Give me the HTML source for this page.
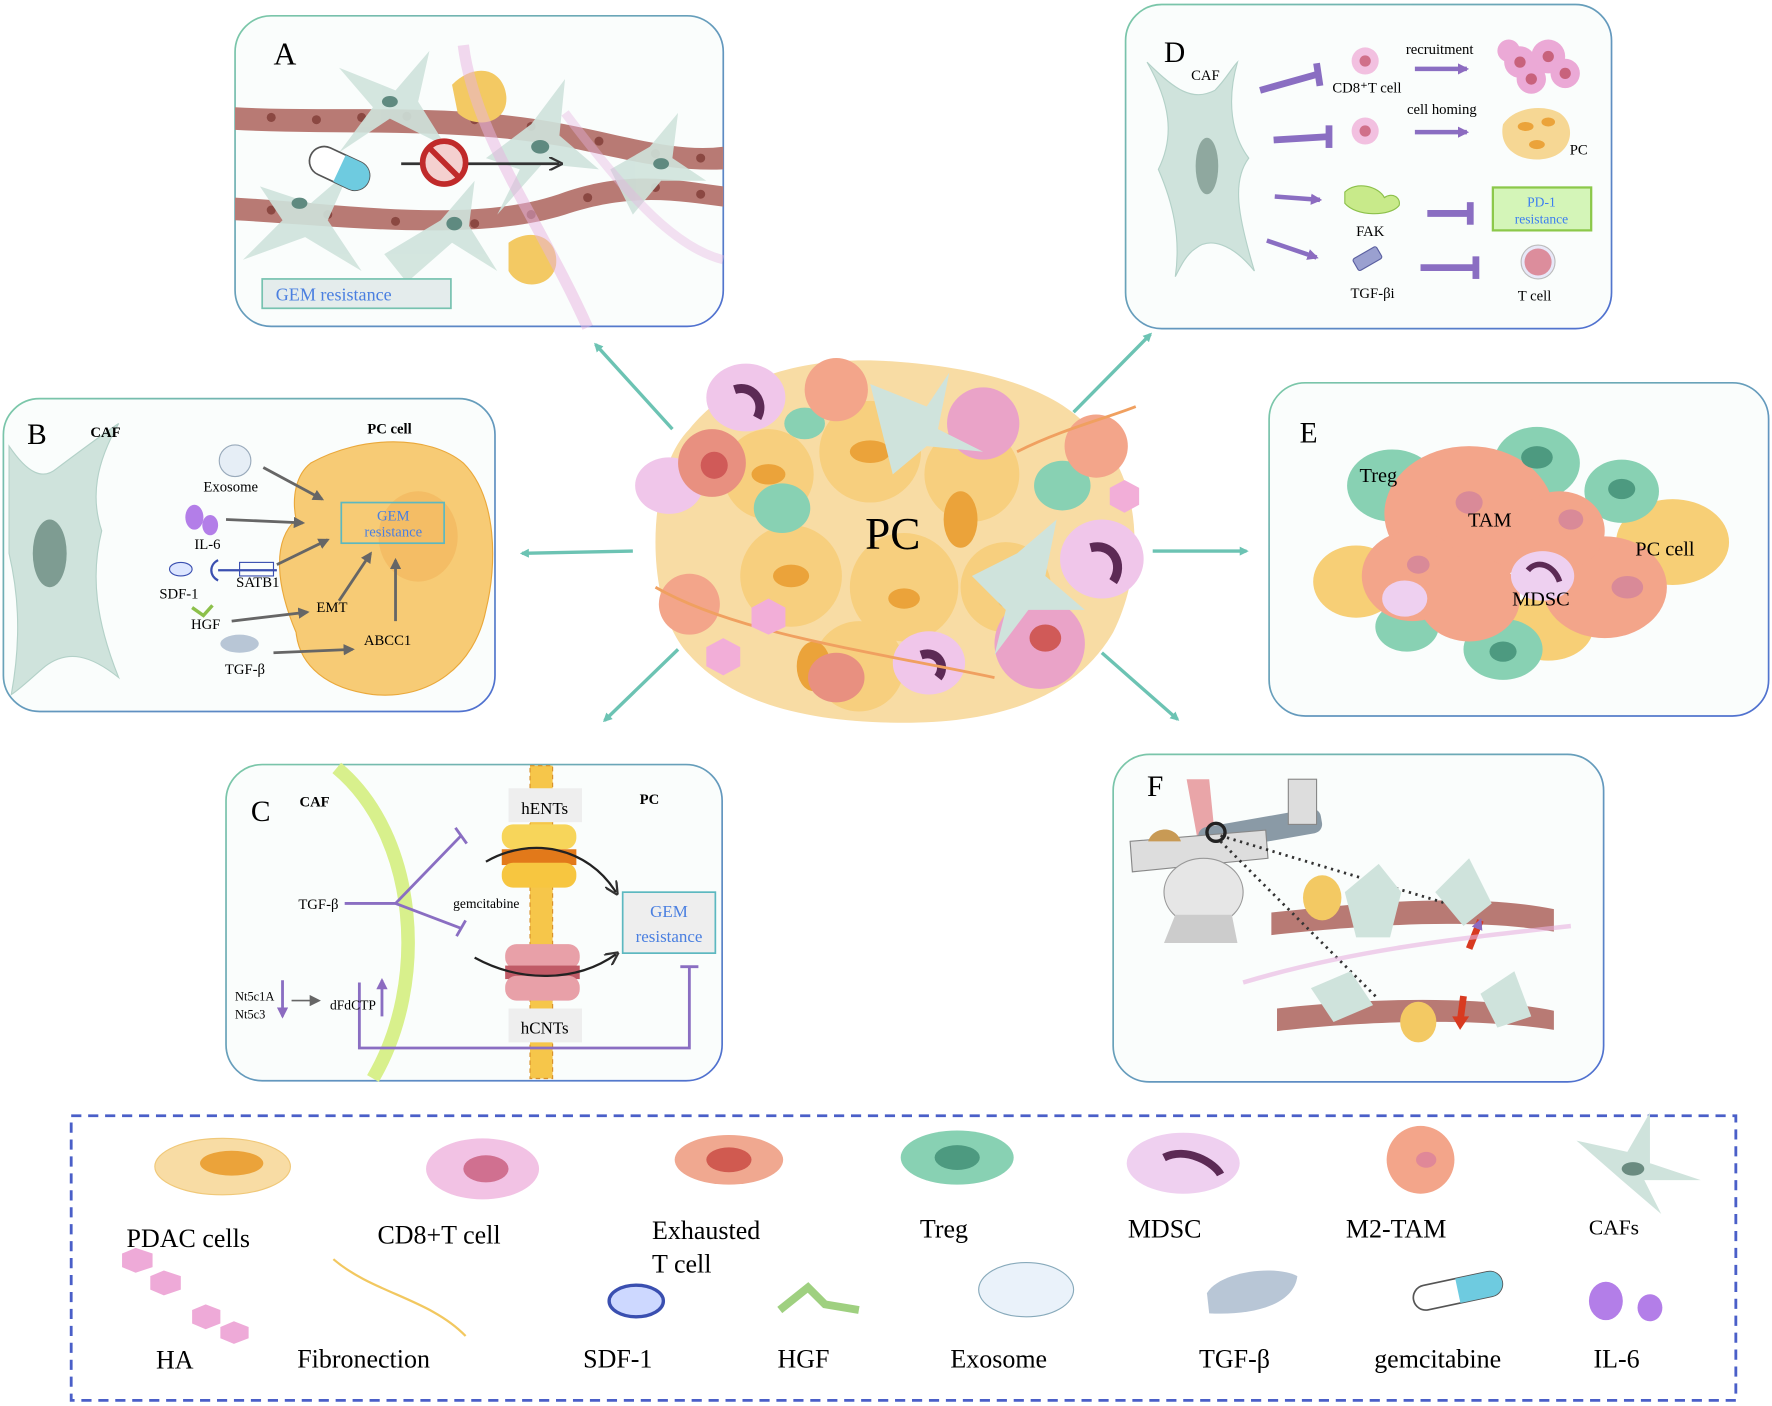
<!DOCTYPE html>
<html><head><meta charset="utf-8"><style>
html,body{margin:0;padding:0;background:#fff}
svg{display:block}
text{font-family:"Liberation Serif",serif}
</style></head><body>
<svg width="1772" height="1406" viewBox="0 0 1568 1245" preserveAspectRatio="none" xmlns="http://www.w3.org/2000/svg">
<defs>
<marker id="ta" markerWidth="8" markerHeight="8" refX="6" refY="4" orient="auto" markerUnits="userSpaceOnUse"><path d="M0,0 L8,4 L0,8 Z" fill="#6cc3b3"/></marker>
<marker id="pa" markerWidth="10" markerHeight="10" refX="8" refY="5" orient="auto" markerUnits="userSpaceOnUse"><path d="M0,0 L10,5 L0,10 Z" fill="#8c6bc0"/></marker>
<marker id="ga" markerWidth="10" markerHeight="10" refX="8" refY="5" orient="auto" markerUnits="userSpaceOnUse"><path d="M0,0 L10,5 L0,10 Z" fill="#666"/></marker>
<marker id="ka" markerWidth="12" markerHeight="12" refX="9" refY="6" orient="auto" markerUnits="userSpaceOnUse"><path d="M0,0 L12,6 L0,12" fill="none" stroke="#333" stroke-width="2"/></marker>
<linearGradient id="pg" x1="0" y1="0" x2="1" y2="1"><stop offset="0" stop-color="#7cc9a8"/><stop offset="1" stop-color="#4f6fd0"/></linearGradient>
</defs>

<!-- Panels -->
<rect x="208" y="14" width="432" height="275" rx="32" fill="#fafdfc" stroke="url(#pg)" stroke-width="1.5"/>
<rect x="996" y="4" width="430" height="287" rx="32" fill="#fafdfc" stroke="url(#pg)" stroke-width="1.5"/>
<rect x="3" y="353" width="435" height="277" rx="32" fill="#fafdfc" stroke="url(#pg)" stroke-width="1.5"/>
<rect x="1123" y="339" width="442" height="295" rx="32" fill="#fafdfc" stroke="url(#pg)" stroke-width="1.5"/>
<rect x="200" y="677" width="439" height="280" rx="32" fill="#fafdfc" stroke="url(#pg)" stroke-width="1.5"/>
<rect x="985" y="668" width="434" height="290" rx="32" fill="#fafdfc" stroke="url(#pg)" stroke-width="1.5"/>

<!-- Panel A -->
<g>
<path d="M208,95 C300,100 400,90 500,110 C560,122 600,135 640,130 L640,150 C590,152 550,140 500,130 C400,112 300,120 208,115 Z" fill="#b87a74"/>
<path d="M208,175 C300,180 420,200 500,170 C560,150 600,160 640,165 L640,183 C600,178 560,170 500,190 C420,215 300,200 208,195 Z" fill="#b87a74"/>
<g fill="#8b4842">
<circle cx="240" cy="104" r="4"/><circle cx="280" cy="106" r="4"/><circle cx="320" cy="104" r="4"/><circle cx="360" cy="103" r="4"/><circle cx="420" cy="106" r="4"/><circle cx="470" cy="112" r="4"/><circle cx="530" cy="125" r="4"/><circle cx="580" cy="136" r="4"/><circle cx="620" cy="140" r="4"/>
<circle cx="240" cy="186" r="4"/><circle cx="290" cy="190" r="4"/><circle cx="350" cy="196" r="4"/><circle cx="420" cy="198" r="4"/><circle cx="470" cy="190" r="4"/><circle cx="520" cy="175" r="4"/><circle cx="580" cy="166" r="4"/><circle cx="620" cy="172" r="4"/>
</g>
<g fill="#cfe3dc" opacity="0.9">
<path d="M300,60 L350,80 L380,45 L370,90 L395,130 L345,105 L300,135 L330,95 Z"/>
<path d="M430,140 L470,110 L500,70 L495,120 L530,150 L480,145 L440,190 L460,150 Z"/>
<path d="M215,230 L250,195 L230,165 L275,180 L310,150 L290,195 L320,240 L270,210 Z"/>
<path d="M340,225 L390,195 L420,160 L415,200 L440,240 L400,215 L360,250 Z"/>
<path d="M540,150 L575,130 L600,100 L595,140 L625,160 L585,160 L560,190 Z"/>
</g>
<g fill="#5f8a80"><ellipse cx="345" cy="90" rx="7" ry="5"/><ellipse cx="478" cy="130" rx="8" ry="6"/><ellipse cx="265" cy="180" rx="7" ry="5"/><ellipse cx="402" cy="198" rx="7" ry="6"/><ellipse cx="585" cy="145" rx="7" ry="5"/></g>
<path d="M400,75 C420,55 445,60 448,85 C450,110 420,115 405,100 Z" fill="#f3c963"/>
<path d="M450,215 C470,200 495,210 492,235 C488,255 460,258 450,240 Z" fill="#f3c963"/>
<path d="M410,40 C420,120 480,200 520,290" stroke="#e7b3e0" stroke-width="10" fill="none" opacity="0.5"/>
<path d="M500,100 C560,180 600,220 640,230" stroke="#e7b3e0" stroke-width="8" fill="none" opacity="0.4"/>
<g transform="rotate(25 300 150)"><rect x="272" y="136" width="56" height="26" rx="13" fill="#fff" stroke="#555" stroke-width="1.5"/><path d="M300,136 L315,136 A13,13 0 0 1 315,162 L300,162 Z" fill="#6ecbe0"/></g>
<line x1="355" y1="145" x2="495" y2="145" stroke="#333" stroke-width="2.5" marker-end="url(#ka)"/>
<circle cx="393" cy="144" r="19" fill="#f4d0cf" stroke="#c02a2a" stroke-width="5"/>
<line x1="380" y1="131" x2="406" y2="157" stroke="#c02a2a" stroke-width="5"/>
<rect x="232" y="247" width="167" height="26" fill="#e4ecec" stroke="#77c2b0" stroke-width="1.5"/>
<text x="244" y="266" font-size="16" fill="#4a7fe0">GEM resistance</text>
<text x="242" y="57" font-size="28">A</text>
</g>

<!-- Panel D -->
<g>
<path d="M1015,55 C1040,80 1055,90 1075,80 C1085,70 1090,60 1095,55 C1085,90 1090,120 1105,140 C1090,160 1095,190 1110,240 C1090,215 1070,210 1058,220 C1050,225 1045,235 1040,245 C1045,210 1038,180 1025,150 C1040,120 1035,90 1015,55 Z" fill="#cfe3dc" stroke="#b3d1c8"/>
<ellipse cx="1068" cy="147" rx="10" ry="25" fill="#8fa89f"/>
<text x="1030" y="55" font-size="26">D</text>
<text x="1054" y="71" font-size="13">CAF</text>
<g stroke="#8a6ec2" stroke-width="6" fill="none">
<line x1="1115" y1="80" x2="1165" y2="66"/><line x1="1165" y1="56" x2="1168" y2="76"/>
<line x1="1127" y1="124" x2="1176" y2="121"/><line x1="1176" y1="111" x2="1176" y2="131"/>
<line x1="1263" y1="189" x2="1300" y2="189"/><line x1="1301" y1="179" x2="1301" y2="199"/>
<line x1="1257" y1="237" x2="1305" y2="237"/><line x1="1306" y1="227" x2="1306" y2="247"/>
</g>
<g stroke="#8a6ec2" stroke-width="4">
<line x1="1252" y1="61" x2="1298" y2="61" marker-end="url(#pa)"/>
<line x1="1252" y1="117" x2="1298" y2="117" marker-end="url(#pa)"/>
<line x1="1128" y1="174" x2="1168" y2="177" marker-end="url(#pa)"/>
<line x1="1121" y1="213" x2="1165" y2="228" marker-end="url(#pa)"/>
</g>
<circle cx="1208" cy="54" r="12" fill="#f2c0e0"/><circle cx="1208" cy="54" r="5" fill="#d0708a"/>
<circle cx="1208" cy="116" r="12" fill="#f2c0e0"/><circle cx="1208" cy="116" r="5" fill="#d0708a"/>
<g fill="#eba9d6"><circle cx="1345" cy="55" r="14"/><circle cx="1370" cy="50" r="15"/><circle cx="1385" cy="65" r="13"/><circle cx="1355" cy="70" r="13"/><circle cx="1335" cy="45" r="10"/></g>
<g fill="#c8627c"><circle cx="1345" cy="55" r="5"/><circle cx="1370" cy="50" r="5"/><circle cx="1385" cy="65" r="5"/><circle cx="1355" cy="70" r="5"/></g>
<path d="M1330,110 C1340,95 1365,92 1380,100 C1395,110 1392,135 1370,140 C1350,145 1325,135 1330,110 Z" fill="#f6d794"/>
<g fill="#eba33a"><ellipse cx="1350" cy="112" rx="7" ry="4"/><ellipse cx="1370" cy="108" rx="6" ry="4"/><ellipse cx="1360" cy="128" rx="7" ry="4"/></g>
<path d="M1190,170 C1200,160 1220,165 1225,175 C1232,170 1240,175 1238,182 C1230,192 1200,192 1190,180 Z" fill="#c8ea8a" stroke="#8cc04a"/>
<rect x="1198" y="223" width="24" height="12" rx="2" transform="rotate(-30 1210 229)" fill="#9aa0d0" stroke="#5a5fa0"/>
<rect x="1321" y="166" width="87" height="38" fill="#d4f5b8" stroke="#8cc84a" stroke-width="2"/>
<text x="1364" y="183" font-size="12" fill="#3c7ef0" text-anchor="middle">PD-1</text>
<text x="1364" y="198" font-size="12" fill="#3c7ef0" text-anchor="middle">resistance</text>
<circle cx="1361" cy="232" r="15" fill="#e8e8f8" stroke="#bbb"/><circle cx="1361" cy="232" r="12" fill="#dc8d9c"/>
<g font-size="13"><text x="1179" y="82">CD8⁺T cell</text><text x="1244" y="48">recruitment</text><text x="1245" y="101">cell homing</text><text x="1389" y="137">PC</text><text x="1200" y="209">FAK</text><text x="1195" y="264">TGF-βi</text><text x="1343" y="266">T cell</text></g>
</g>

<!-- Panel B -->
<g>
<path d="M8,395 C25,420 38,425 50,415 C70,400 90,385 105,375 C85,410 80,440 90,470 C80,510 85,550 105,600 C80,580 60,575 40,590 C28,600 18,610 10,615 C20,560 15,520 8,490 Z" fill="#cfe3dc" stroke="#b3d1c8"/>
<ellipse cx="44" cy="490" rx="15" ry="30" fill="#7e9c92"/>
<path d="M275,410 C320,385 380,385 410,410 C440,440 440,500 430,540 C420,590 380,620 330,615 C290,610 265,590 262,560 C245,520 240,480 262,460 C258,440 262,420 275,410 Z" fill="#f7cb75" stroke="#eaa83a"/>
<ellipse cx="370" cy="475" rx="35" ry="40" fill="#f1b45a" opacity="0.6"/>
<rect x="302" y="445" width="91" height="36" fill="none" stroke="#5cb8c0" stroke-width="1.5"/>
<text x="348" y="461" font-size="13" fill="#4a7fe0" text-anchor="middle">GEM</text>
<text x="348" y="475" font-size="13" fill="#4a7fe0" text-anchor="middle">resistance</text>
<g stroke="#666" stroke-width="2.5">
<line x1="233" y1="414" x2="285" y2="442" marker-end="url(#ga)"/>
<line x1="200" y1="460" x2="268" y2="463" marker-end="url(#ga)"/>
<line x1="245" y1="500" x2="290" y2="478" marker-end="url(#ga)"/>
<line x1="300" y1="532" x2="328" y2="490" marker-end="url(#ga)"/>
<line x1="350" y1="550" x2="350" y2="496" marker-end="url(#ga)"/>
<line x1="205" y1="550" x2="272" y2="542" marker-end="url(#ga)"/>
<line x1="242" y1="578" x2="312" y2="575" marker-end="url(#ga)"/>
</g>
<circle cx="208" cy="408" r="14" fill="#e6eef6" stroke="#9ab"/>
<ellipse cx="172" cy="458" rx="8" ry="11" fill="#b37ee8"/><ellipse cx="186" cy="465" rx="7" ry="9" fill="#b37ee8"/>
<ellipse cx="160" cy="504" rx="10" ry="6" fill="#dde6ff" stroke="#3a4fb0"/>
<path d="M193,496 C185,500 185,510 193,514 M193,505 L245,505" stroke="#3a4fb0" stroke-width="2" fill="none"/>
<rect x="212" y="498" width="30" height="12" fill="none" stroke="#3a4fb0"/>
<path d="M170,538 L180,545 L188,536" stroke="#8cc04a" stroke-width="3" fill="none"/>
<ellipse cx="212" cy="570" rx="17" ry="8" fill="#b8c6d6"/>
<g font-size="13"><text x="80" y="387" font-weight="bold">CAF</text><text x="325" y="384" font-weight="bold">PC cell</text><text x="180" y="435">Exosome</text><text x="172" y="486">IL-6</text><text x="141" y="530">SDF-1</text><text x="209" y="520">SATB1</text><text x="169" y="557">HGF</text><text x="280" y="542">EMT</text><text x="322" y="571">ABCC1</text><text x="199" y="597">TGF-β</text></g>
<text x="24" y="393" font-size="26">B</text>
</g>

<!-- Panel E -->
<g>
<g fill="#f7cf76"><ellipse cx="1200" cy="515" rx="38" ry="32"/><ellipse cx="1480" cy="480" rx="50" ry="38"/><ellipse cx="1370" cy="555" rx="40" ry="30"/></g>
<g fill="#88d1b3"><ellipse cx="1232" cy="430" rx="40" ry="32"/><ellipse cx="1360" cy="410" rx="38" ry="32"/><ellipse cx="1435" cy="435" rx="33" ry="28"/><ellipse cx="1330" cy="575" rx="35" ry="27"/><ellipse cx="1245" cy="555" rx="28" ry="22"/></g>
<g fill="#f3a58a"><ellipse cx="1300" cy="455" rx="75" ry="60"/><ellipse cx="1250" cy="510" rx="45" ry="40"/><ellipse cx="1420" cy="520" rx="55" ry="45"/><ellipse cx="1300" cy="530" rx="45" ry="38"/><ellipse cx="1380" cy="470" rx="40" ry="35"/></g>
<g fill="#d98a98"><ellipse cx="1300" cy="445" rx="12" ry="10"/><ellipse cx="1255" cy="500" rx="10" ry="8"/><ellipse cx="1440" cy="520" rx="14" ry="10"/><ellipse cx="1390" cy="460" rx="11" ry="9"/></g>
<g fill="#4d9a80"><ellipse cx="1360" cy="405" rx="14" ry="10"/><ellipse cx="1435" cy="433" rx="12" ry="9"/><ellipse cx="1330" cy="577" rx="12" ry="9"/></g>
<ellipse cx="1365" cy="510" rx="28" ry="22" fill="#eed0f0"/><path d="M1352,505 C1360,495 1375,500 1380,515" stroke="#5c2a55" stroke-width="5" fill="none"/>
<ellipse cx="1243" cy="530" rx="20" ry="16" fill="#eed0f0"/>
<g font-size="18"><text x="1203" y="427">Treg</text><text x="1299" y="466">TAM</text><text x="1447" y="492">PC cell</text><text x="1338" y="536">MDSC</text></g>
<text x="1150" y="392" font-size="26">E</text>
</g>

<!-- Panel C -->
<g>
<path d="M298,680 C370,740 380,870 330,955" stroke="#d8f08c" stroke-width="12" fill="none"/>
<rect x="469" y="678" width="20" height="277" fill="#f6c64a" stroke="#d8902a" stroke-dasharray="4,3"/>
<rect x="450" y="698" width="65" height="30" fill="#eee"/><text x="482" y="721" font-size="15" text-anchor="middle">hENTs</text>
<rect x="450" y="893" width="65" height="30" fill="#eee"/><text x="482" y="915" font-size="15" text-anchor="middle">hCNTs</text>
<rect x="444" y="730" width="66" height="22" rx="10" fill="#f7d55a"/><rect x="444" y="752" width="66" height="14" fill="#e2791a"/><rect x="444" y="764" width="66" height="22" rx="10" fill="#f7c640"/>
<rect x="447" y="836" width="66" height="22" rx="10" fill="#e8a0a8"/><rect x="447" y="855" width="66" height="12" fill="#c05a66"/><rect x="447" y="864" width="66" height="22" rx="10" fill="#e8a0a8"/>
<path d="M430,763 C470,740 520,750 545,790" stroke="#222" stroke-width="2" fill="none" marker-end="url(#ka)"/>
<path d="M420,848 C460,870 510,870 545,845" stroke="#222" stroke-width="2" fill="none" marker-end="url(#ka)"/>
<rect x="551" y="790" width="82" height="54" fill="#eeeeee" stroke="#5cb8c0" stroke-width="1.5"/>
<text x="592" y="812" font-size="15" fill="#4a7fe0" text-anchor="middle">GEM</text>
<text x="592" y="834" font-size="15" fill="#4a7fe0" text-anchor="middle">resistance</text>
<g stroke="#8a6ec2" stroke-width="2.5" fill="none">
<line x1="305" y1="800" x2="350" y2="800"/>
<line x1="350" y1="800" x2="408" y2="740"/><line x1="350" y1="800" x2="408" y2="822"/>
<line x1="403" y1="733" x2="413" y2="747"/><line x1="404" y1="829" x2="412" y2="815"/>
<path d="M318,870 L318,928 L610,928 L610,856"/><line x1="602" y1="856" x2="618" y2="856"/>
<line x1="250" y1="868" x2="250" y2="900" marker-end="url(#pa)"/>
<line x1="338" y1="900" x2="338" y2="868" marker-end="url(#pa)"/>
</g>
<line x1="258" y1="886" x2="282" y2="886" stroke="#666" stroke-width="1.5" marker-end="url(#ga)"/>
<g font-size="13"><text x="265" y="714" font-weight="bold">CAF</text><text x="566" y="712" font-weight="bold">PC</text><text x="264" y="805">TGF-β</text><text x="401" y="804" font-size="12">gemcitabine</text><text x="208" y="886" font-size="11">Nt5c1A</text><text x="208" y="902" font-size="11">Nt5c3</text><text x="292" y="894" font-size="12">dFdCTP</text></g>
<text x="222" y="727" font-size="26">C</text>
</g>

<!-- Panel F -->
<g>
<path d="M1125,808 C1200,800 1300,790 1375,805 L1375,825 C1300,812 1200,820 1125,828 Z" fill="#b87a74"/>
<path d="M1130,893 C1200,885 1300,880 1375,895 L1375,912 C1300,900 1200,905 1130,913 Z" fill="#b87a74"/>
<path d="M1050,690 L1070,690 L1075,740 L1060,745 Z" fill="#e9a5a8"/>
<rect x="1060" y="725" width="110" height="22" rx="8" fill="#8a9aa6" transform="rotate(-10 1110 735)"/>
<rect x="1140" y="690" width="25" height="40" fill="#ddd" stroke="#888"/>
<path d="M1000,745 L1120,735 L1122,760 L1002,772 Z" fill="#ddd" stroke="#888"/>
<ellipse cx="1065" cy="790" rx="35" ry="30" fill="#e6e6e6" stroke="#999"/>
<path d="M1040,810 L1090,810 L1095,835 L1030,835 Z" fill="#ccc"/>
<circle cx="1076" cy="737" r="8" fill="none" stroke="#222" stroke-width="3"/>
<path d="M1016,745 C1020,732 1040,730 1045,745 Z" fill="#c89a55"/>
<g stroke="#333" stroke-width="2.5" stroke-dasharray="2,4"><line x1="1080" y1="740" x2="1280" y2="800"/><line x1="1080" y1="745" x2="1220" y2="885"/></g>
<g fill="#cfe3dc"><path d="M1190,790 L1220,765 L1240,790 L1230,830 L1200,830 Z"/><path d="M1270,790 L1300,760 L1320,800 L1295,820 Z"/><path d="M1160,875 L1195,860 L1215,890 L1180,905 Z"/><path d="M1310,880 L1340,860 L1355,900 L1325,910 Z"/></g>
<ellipse cx="1170" cy="795" rx="17" ry="20" fill="#f3c963"/><ellipse cx="1255" cy="905" rx="16" ry="18" fill="#f3c963"/>
<path d="M1300,840 L1310,815" stroke="#d83a20" stroke-width="6" marker-end="url(#pa)"/>
<path d="M1295,882 L1292,905" stroke="#d83a20" stroke-width="6"/>
<path d="M1285,900 L1292,912 L1300,900 Z" fill="#d83a20"/>
<path d="M1100,870 C1200,840 1300,830 1390,820" stroke="#e7b3e0" stroke-width="4" fill="none" opacity="0.6"/>
<text x="1015" y="705" font-size="26">F</text>
</g>

<!-- Center cluster -->
<g>
<path d="M610,380 C650,330 720,315 790,320 C860,325 930,340 965,380 C1010,420 1015,500 985,560 C950,620 880,640 800,640 C720,640 650,625 610,580 C570,540 570,420 610,380 Z" fill="#f8dca4"/>
<g fill="#f7cf7e"><circle cx="680" cy="420" r="40"/><circle cx="770" cy="400" r="45"/><circle cx="860" cy="420" r="42"/><circle cx="700" cy="510" r="45"/><circle cx="800" cy="520" r="48"/><circle cx="890" cy="520" r="40"/><circle cx="760" cy="590" r="40"/></g>
<g fill="#eba33a"><ellipse cx="680" cy="420" rx="15" ry="9"/><ellipse cx="770" cy="400" rx="18" ry="10"/><ellipse cx="850" cy="460" rx="15" ry="25"/><ellipse cx="700" cy="510" rx="16" ry="10"/><ellipse cx="800" cy="530" rx="14" ry="9"/><ellipse cx="890" cy="520" rx="10" ry="18"/><ellipse cx="720" cy="590" rx="15" ry="22"/></g>
<g fill="#f0c6ea"><ellipse cx="660" cy="352" rx="35" ry="30"/><ellipse cx="975" cy="495" rx="37" ry="35"/><ellipse cx="822" cy="587" rx="32" ry="28"/><ellipse cx="592" cy="430" rx="30" ry="25"/></g>
<g stroke="#5c2a55" stroke-width="8" fill="none"><path d="M650,345 C665,340 678,355 670,370"/><path d="M965,485 C985,480 995,500 985,515"/><path d="M815,580 C830,575 838,590 830,600"/></g>
<g fill="#88d1b3"><ellipse cx="692" cy="450" rx="25" ry="22"/><ellipse cx="940" cy="430" rx="25" ry="22"/><ellipse cx="712" cy="375" rx="18" ry="14"/></g>
<g fill="#f3a58a"><circle cx="740" cy="345" r="28"/><circle cx="970" cy="395" r="28"/><circle cx="610" cy="535" r="27"/></g>
<g fill="#eaa3c8"><circle cx="870" cy="375" r="32"/><circle cx="920" cy="570" r="40"/></g>
<g fill="#e89080"><ellipse cx="630" cy="410" rx="30" ry="30"/><ellipse cx="740" cy="600" rx="25" ry="22"/></g>
<g fill="#d05a58"><ellipse cx="632" cy="412" rx="12" ry="12"/><ellipse cx="925" cy="565" rx="14" ry="12"/></g>
<path d="M860,510 L900,490 L935,460 L925,510 L960,540 L910,540 L880,580 L890,540 Z" fill="#cfe3dc"/>
<path d="M770,340 L820,360 L840,330 L830,380 L870,400 L820,395 L790,420 Z" fill="#cfe3dc"/>
<path d="M580,520 C650,560 760,575 880,600" stroke="#f0a060" stroke-width="2.5" fill="none"/>
<path d="M900,400 C940,380 980,370 1005,360" stroke="#f0a060" stroke-width="2.5" fill="none"/>
<g fill="#f2aed8"><polygon points="680,530 695,538 695,555 680,562 665,555 665,538"/><polygon points="640,565 655,573 655,590 640,598 625,590 625,573"/><polygon points="995,425 1008,432 1008,447 995,454 982,447 982,432"/></g>
<text x="790" y="486" font-size="40" text-anchor="middle">PC</text>
</g>

<!-- teal arrows -->
<g stroke="#6cc3b3" stroke-width="3">
<line x1="595" y1="380" x2="527" y2="305" marker-end="url(#ta)"/>
<line x1="950" y1="365" x2="1018" y2="296" marker-end="url(#ta)"/>
<line x1="560" y1="488" x2="462" y2="490" marker-end="url(#ta)"/>
<line x1="1020" y1="488" x2="1103" y2="488" marker-end="url(#ta)"/>
<line x1="600" y1="575" x2="535" y2="638" marker-end="url(#ta)"/>
<line x1="975" y1="578" x2="1042" y2="637" marker-end="url(#ta)"/>
</g>

<!-- Legend -->
<rect x="63" y="988" width="1473" height="252" fill="none" stroke="#4a5fc8" stroke-width="2.5" stroke-dasharray="9,6"/>
<g>
<ellipse cx="197" cy="1033" rx="60" ry="25" fill="#f8dca4" stroke="#f0c878"/><ellipse cx="205" cy="1030" rx="28" ry="11" fill="#eba33a"/>
<ellipse cx="427" cy="1035" rx="50" ry="27" fill="#f2c2e4"/><ellipse cx="430" cy="1035" rx="20" ry="12" fill="#d07090"/>
<ellipse cx="645" cy="1027" rx="48" ry="22" fill="#f0a890"/><ellipse cx="645" cy="1027" rx="20" ry="11" fill="#d05a50"/>
<ellipse cx="847" cy="1025" rx="50" ry="24" fill="#88d1b3"/><ellipse cx="847" cy="1025" rx="20" ry="11" fill="#4d9a80"/>
<ellipse cx="1047" cy="1030" rx="50" ry="27" fill="#efd0f0"/><path d="M1030,1025 C1050,1015 1075,1030 1080,1040" stroke="#5c2a55" stroke-width="7" fill="none"/>
<circle cx="1257" cy="1027" r="30" fill="#f3a58a"/><ellipse cx="1262" cy="1027" rx="9" ry="7" fill="#e08898"/>
<path d="M1395,1010 L1440,1020 L1460,985 L1460,1030 L1505,1045 L1455,1045 L1470,1075 L1435,1045 Z" fill="#cfe3dc"/><ellipse cx="1445" cy="1035" rx="10" ry="6" fill="#6a8b80"/>
<g fill="#eeaad8"><polygon points="120,1105 135,1110 135,1122 120,1127 108,1122 108,1110"/><polygon points="145,1125 160,1130 160,1142 145,1147 133,1142 133,1130"/><polygon points="182,1155 195,1160 195,1172 182,1177 170,1172 170,1160"/><polygon points="207,1170 220,1175 220,1185 207,1190 195,1185 195,1175"/></g>
<path d="M295,1115 C330,1145 380,1150 412,1183" stroke="#f2c860" stroke-width="2" fill="none"/>
<ellipse cx="563" cy="1152" rx="24" ry="14" fill="#cdd8ff" stroke="#3a4fb0" stroke-width="3"/>
<path d="M690,1160 L715,1140 L730,1155 L760,1160" stroke="#9fd080" stroke-width="7" fill="none"/>
<ellipse cx="908" cy="1142" rx="42" ry="24" fill="#eaf2fa" stroke="#8ab"/>
<path d="M1068,1145 C1080,1125 1130,1120 1148,1130 C1145,1155 1110,1165 1070,1163 Z" fill="#b8c6d6"/>
<g transform="rotate(-12 1290 1143)"><rect x="1250" y="1132" width="80" height="22" rx="11" fill="#fff" stroke="#555" stroke-width="1.5"/><path d="M1290,1132 L1319,1132 A11,11 0 0 1 1319,1154 L1290,1154 Z" fill="#6ecbe0"/></g>
<ellipse cx="1421" cy="1152" rx="15" ry="17" fill="#b37ee8"/><ellipse cx="1460" cy="1158" rx="11" ry="12" fill="#b37ee8"/>
</g>
<g font-size="23">
<text x="112" y="1104">PDAC cells</text><text x="334" y="1101">CD8+T cell</text><text x="577" y="1097">Exhausted</text><text x="577" y="1127">T cell</text><text x="814" y="1096">Treg</text><text x="998" y="1096">MDSC</text><text x="1191" y="1096">M2-TAM</text><text x="1406" y="1093" font-size="19">CAFs</text>
<text x="138" y="1212">HA</text><text x="263" y="1211">Fibronection</text><text x="516" y="1211">SDF-1</text><text x="688" y="1211">HGF</text><text x="841" y="1211">Exosome</text><text x="1061" y="1211">TGF-β</text><text x="1216" y="1211">gemcitabine</text><text x="1410" y="1211">IL-6</text>
</g>
</svg>
</body></html>
